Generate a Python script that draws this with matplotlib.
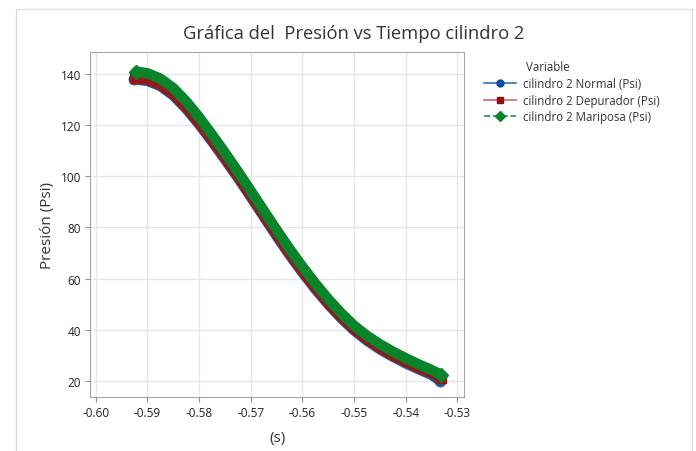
import matplotlib
matplotlib.use('Agg')
from matplotlib import pyplot as plt
from matplotlib.lines import Line2D

plt.rcParams['font.family'] = ['Open Sans', 'DejaVu Sans']

# values (time in s, pressure in Psi)
t_normal = [-0.5925, -0.5900, -0.5875, -0.5850, -0.5825, -0.5800, -0.5775, -0.5750,
            -0.5725, -0.5700, -0.5675, -0.5650, -0.5625, -0.5600, -0.5575, -0.5550,
            -0.5525, -0.5500, -0.5475, -0.5450, -0.5425, -0.5400, -0.5375, -0.5350,
            -0.5333]
p_normal = [138.0, 137.4, 135.4, 131.7, 126.5, 120.4, 113.7, 106.7,
            99.5, 92.0, 84.3, 76.7, 69.3, 62.4, 55.9, 49.9,
            44.5, 39.7, 35.7, 32.3, 29.4, 26.8, 24.5, 22.3,
            19.9]

t_depurador = [-0.5924, -0.5900, -0.5875, -0.5850, -0.5825, -0.5800, -0.5775, -0.5750,
               -0.5725, -0.5700, -0.5675, -0.5650, -0.5625, -0.5600, -0.5575, -0.5550,
               -0.5525, -0.5500, -0.5475, -0.5450, -0.5425, -0.5400, -0.5375, -0.5350,
               -0.5332]
p_depurador = [138.5, 137.9, 135.9, 132.3, 127.1, 121.0, 114.3, 107.3,
               100.1, 92.6, 84.9, 77.3, 69.9, 62.9, 56.4, 50.4,
               45.0, 40.2, 36.2, 32.8, 29.9, 27.4, 25.0, 22.9,
               21.2]

t_mariposa = [-0.5921, -0.5900, -0.5875, -0.5850, -0.5825, -0.5800, -0.5775, -0.5750,
              -0.5725, -0.5700, -0.5675, -0.5650, -0.5625, -0.5600, -0.5575, -0.5550,
              -0.5525, -0.5500, -0.5475, -0.5450, -0.5425, -0.5400, -0.5375, -0.5350,
              -0.5331]
p_mariposa = [141.0, 140.4, 138.3, 134.6, 129.4, 123.2, 116.4, 109.3,
              102.0, 94.4, 86.7, 79.1, 71.7, 64.7, 58.1, 52.0,
              46.5, 41.6, 37.6, 34.3, 31.4, 28.8, 26.4, 24.2,
              22.3]

x_ticks = [-0.60, -0.59, -0.58, -0.57, -0.56, -0.55, -0.54, -0.53]
y_ticks = [20, 40, 60, 80, 100, 120, 140]

fig = plt.figure(figsize=(6.96, 4.52), dpi=100)
ax = fig.add_axes([90 / 696, 54 / 452, 374 / 696, 345 / 452])

series = [
    (t_normal, p_normal, '#1f5aa8', 'o', '#0b4fa0', '-', '#2f6cc0', 'cilindro 2 Normal (Psi)'),
    (t_depurador, p_depurador, '#961818', 's', '#8e1212', '-', '#c86a6a', 'cilindro 2 Depurador (Psi)'),
    (t_mariposa, p_mariposa, '#0a842a', 'D', '#0a842a', '--', '#1a9a3a', 'cilindro 2 Mariposa (Psi)'),
]

handles = []
for t, p, band, mk, mkc, ls, lc, label in series:
    # the dense markers in the original merge into a thick band
    ax.plot(t, p, color=band, lw=7.5, solid_capstyle='round', solid_joinstyle='round',
            marker=mk, ms=7.5, mfc=band, mec=band, markevery=[0, -1])
    handles.append(Line2D([], [], color=lc, ls=ls, lw=1.2, marker=mk, ms=5,
                          mfc=mkc, mec=mkc, label=label))

ax.set_xlim(-0.6011, -0.5287)
ax.set_ylim(13.6, 148.7)
ax.set_xticks(x_ticks)
ax.set_xticklabels(['%.2f' % v for v in x_ticks])
ax.set_yticks(y_ticks)
ax.grid(True, color='#e6e6e6', lw=1)
ax.set_axisbelow(True)
for s in ax.spines.values():
    s.set_color('#a6a6a6')
ax.tick_params(direction='out', length=3.5, width=0.8, color='#909090',
               labelsize=8.5, labelcolor='#222222', pad=3)

ax.set_xlabel('(s)', fontsize=11, color='#333333', labelpad=8)
ax.set_ylabel('Presión (Psi)', fontsize=11, color='#333333', labelpad=4)

fig.text(354 / 696, 1 - 34 / 452, 'Gráfica del  Presión vs Tiempo cilindro 2',
         ha='center', va='center', fontsize=13.2, color='#333333')

fig.text(526 / 696, 1 - 67.5 / 452, 'Variable', ha='left', va='center',
         fontsize=8.3, color='#333333')
fig.legend(handles=handles, loc='upper left', bbox_to_anchor=(484 / 696, 1 - 78.5 / 452),
           frameon=False, fontsize=8.3, handlelength=2.8, handletextpad=0.6,
           labelspacing=0.3, borderpad=0, borderaxespad=0, labelcolor='#333333')

# light frame around the whole chart
frame = Line2D([15.5 / 696, 15.5 / 696, 692 / 696, 692 / 696],
               [-0.1, 1 - 10 / 452, 1 - 10 / 452, -0.1],
               transform=fig.transFigure, color='#dcdcdc', lw=1)
fig.add_artist(frame)

plt.savefig('out.png', dpi=100)
